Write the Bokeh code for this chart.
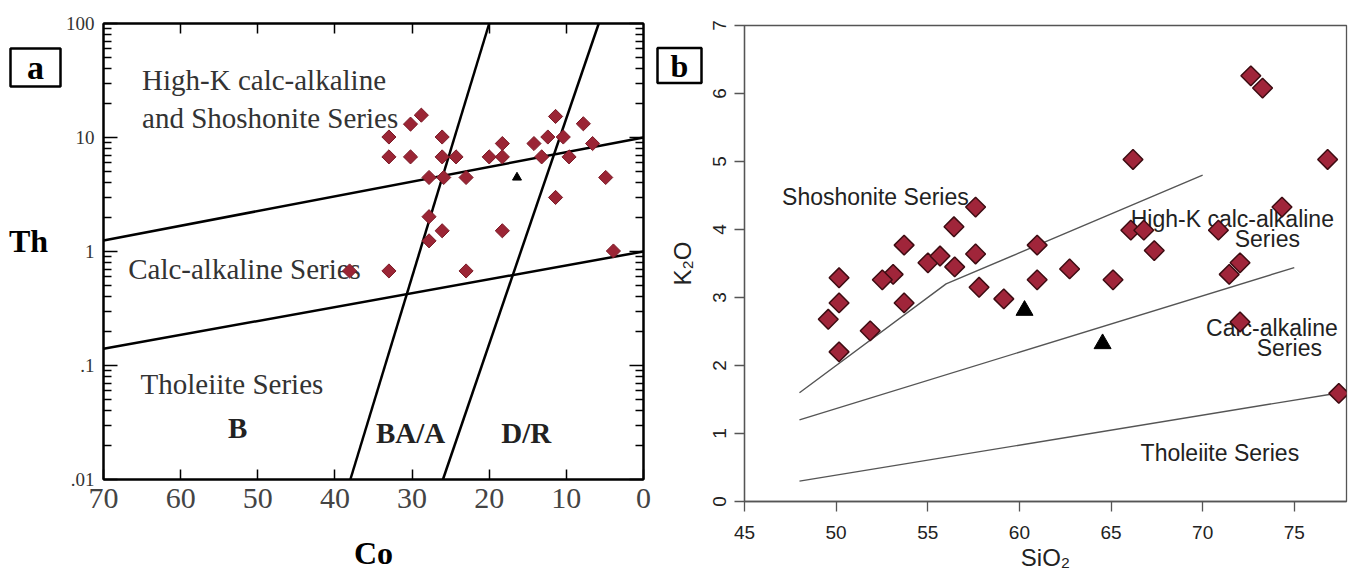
import math
from bokeh.plotting import figure
from bokeh.layouts import row
from bokeh.models import Range1d, FixedTicker, LogAxis, LinearAxis, CustomJSTickFormatter
from bokeh.core.properties import value
from bokeh.embed import file_html
from bokeh.resources import INLINE

SERIF = "Liberation Serif"
SANS = "Liberation Sans"
H = 573

# ---------------- Panel (a): Th vs Co ----------------
co_samples = [28.8, 30.2, 33.0, 26.1, 33.0, 30.2, 26.1, 24.3, 27.8, 25.9, 23.0,
              27.8, 26.1, 27.8, 18.3, 20.0, 18.3, 14.2, 13.2, 12.4, 11.4, 10.4,
              9.65, 7.8, 6.6, 4.9, 11.4, 18.3, 3.9, 33.0, 23.0, 38.1]
th_samples = [15.7, 13.1, 10.1, 10.1, 6.76, 6.76, 6.76, 6.76, 4.46, 4.46, 4.46,
              2.02, 1.52, 1.24, 8.85, 6.76, 6.76, 8.85, 6.76, 10.1, 15.3, 10.1,
              6.76, 13.2, 8.85, 4.46, 2.98, 1.52, 1.01, 0.675, 0.675, 0.675]
co_ref = [16.4]
th_ref = [4.46]

hkca_co = [70, 0]
hkca_th = [1.25, 10.0]
cath_co = [70, 0]
cath_th = [0.14, 1.0]
bba_co = [38, 20]
bba_th = [0.01, 100]
badr_co = [26, 5.8]
badr_th = [0.01, 100]

a_series_text = ["High-K calc-alkaline", "and Shoshonite Series", "Calc-alkaline Series", "Tholeiite Series"]
a_series_co = [65.0, 65.0, 66.8, 65.2]
a_series_th = [31.9, 14.8, 0.697, 0.0689]
a_rock_text = ["B", "BA/A", "D/R"]
a_rock_co = [52.6, 30.2, 15.2]
a_rock_th = [0.0285, 0.0255, 0.0257]

co_ticks = [70, 60, 50, 40, 30, 20, 10, 0]
co_top_ticks = [60, 50, 40, 30, 20, 10]
th_ticks = [0.01, 0.1, 1, 10, 100]
th_tick_labels = [".01", ".1", "1", "10", "100"]
th_minor = [k * 10.0 ** e for e in range(-2, 2) for k in range(2, 10)]

# ---------------- Panel (b): K2O vs SiO2 ----------------
sio2_samples = [72.63, 73.27, 66.2, 76.82, 74.33, 57.61, 56.43, 53.71, 60.97, 66.08,
                66.79, 70.86, 67.36, 57.61, 55.01, 55.67, 56.47, 62.74, 53.11, 52.52,
                50.16, 60.97, 65.11, 72.04, 71.45, 57.8, 59.15, 50.16, 53.71, 49.57,
                51.86, 50.16, 72.04, 77.43]
k2o_samples = [6.26, 6.08, 5.03, 5.03, 4.33, 4.33, 4.04, 3.77, 3.77, 3.99,
               3.99, 3.99, 3.69, 3.64, 3.51, 3.61, 3.45, 3.42, 3.34, 3.26,
               3.29, 3.26, 3.26, 3.51, 3.34, 3.15, 2.98, 2.92, 2.92, 2.68,
               2.51, 2.20, 2.64, 1.59]
sio2_ref = [60.28, 64.54]
k2o_ref = [2.81, 2.32]

sho_si = [48, 56, 70]
sho_k = [1.6, 3.2, 4.8]
hk_si = [48, 75]
hk_k = [1.2, 3.44]
ca_si = [48, 77.5]
ca_k = [0.3, 1.6]

b_text = ["High-K calc-alkaline", "Series", "Calc-alkaline", "Series", "Tholeiite Series"]
b_text_si = [71.62, 73.53, 73.78, 74.73, 70.94]
b_text_k = [4.16, 3.86, 2.55, 2.26, 0.71]
b_sho_text = ["Shoshonite Series"]
b_sho_si = [47.05]
b_sho_k = [4.48]

sio2_ticks = [45, 50, 55, 60, 65, 70, 75]
k2o_ticks = [0, 1, 2, 3, 4, 5, 6, 7]

# ---------------- margin strips (panel tags and side titles) ----------------
strip_a_w = 62
tag_a_x, tag_a_y, tag_a_w, tag_a_h = [35], [67], [50], [38]
th_title_x, th_title_y = [28], [240]
strip_m_w = 48
tag_b_x, tag_b_y, tag_b_w, tag_b_h = [24], [65], [44], [35]
k2o_title_x, k2o_title_y = [27], [263]


def strip(width):
    s = figure(width=width, height=H, x_range=Range1d(0, width), y_range=Range1d(H, 0),
               output_backend="svg", toolbar_location=None, min_border=0,
               x_axis_location=None, y_axis_location=None,
               background_fill_color="white", border_fill_color="white")
    s.frame_align = False
    s.outline_line_color = None
    s.grid.visible = False
    return s


sa = strip(strip_a_w)
sa.rect(x=tag_a_x, y=tag_a_y, width=tag_a_w, height=tag_a_h, fill_color="white",
        line_color="black", line_width=2.5)
sa.text(x=tag_a_x, y=tag_a_y, text=["a"], text_font=value(SERIF), text_font_style="bold",
        text_font_size="34px", text_color="black", text_align="center", text_baseline="middle")
sa.text(x=th_title_x, y=th_title_y, text=["Th"], text_font=value(SERIF), text_font_style="bold",
        text_font_size="32px", text_color="black", text_align="center", text_baseline="middle")

# ======================= Figure A =======================
pa = figure(width=593, height=H, x_range=Range1d(70, 0), y_range=Range1d(0.01, 100),
            y_axis_type="log", output_backend="svg", toolbar_location=None,
            min_border_left=39, min_border_right=12, min_border_top=23, min_border_bottom=93,
            background_fill_color="white", border_fill_color="white")
pa.frame_align = False
pa.xgrid.visible = False
pa.ygrid.visible = False
pa.outline_line_color = "black"
pa.outline_line_width = 2

ya = pa.yaxis[0]
ya.ticker = FixedTicker(ticks=th_ticks, minor_ticks=th_minor)
ya.major_label_overrides = dict(zip(th_ticks, th_tick_labels))
ya.major_tick_in = 14
ya.major_tick_out = 0
ya.minor_tick_in = 8
ya.minor_tick_out = 0
ya.axis_line_color = "black"
ya.axis_line_width = 2
ya.major_tick_line_width = 1.5
ya.minor_tick_line_width = 1.5
ya.major_label_text_font = SERIF
ya.major_label_text_font_size = "19px"
ya.major_label_text_color = "#333333"
ya.major_label_standoff = 9

xa = pa.xaxis[0]
xa.ticker = FixedTicker(ticks=co_ticks, minor_ticks=[])
xa.major_label_overrides = {0: "0"}
xa.major_tick_in = 10
xa.major_tick_out = 0
xa.minor_tick_in = 0
xa.minor_tick_out = 0
xa.axis_line_color = "black"
xa.axis_line_width = 2
xa.major_tick_line_width = 1.5
xa.major_label_text_font = SERIF
xa.major_label_text_font_size = "30px"
xa.major_label_text_color = "#444444"
xa.major_label_standoff = 9
xa.axis_label = "Co"
xa.axis_label_text_font = SERIF
xa.axis_label_text_font_style = "bold"
xa.axis_label_text_font_size = "32px"
xa.axis_label_text_color = "black"
xa.axis_label_standoff = 24

top_axis = LinearAxis(ticker=FixedTicker(ticks=co_top_ticks, minor_ticks=[]),
                      formatter=CustomJSTickFormatter(code="return ''"),
                      major_tick_in=10, major_tick_out=0, minor_tick_in=0, minor_tick_out=0,
                      axis_line_color="black", axis_line_width=2, major_tick_line_width=1.5,
                      major_label_standoff=0)
pa.add_layout(top_axis, "above")

right_axis = LogAxis(ticker=FixedTicker(ticks=th_ticks, minor_ticks=th_minor),
                     formatter=CustomJSTickFormatter(code="return ''"),
                     major_tick_in=14, major_tick_out=0, minor_tick_in=8, minor_tick_out=0,
                     axis_line_color="black", axis_line_width=2,
                     major_tick_line_width=1.5, minor_tick_line_width=1.5,
                     major_label_standoff=0)
pa.add_layout(right_axis, "right")

pa.text(x=a_series_co, y=a_series_th, text=a_series_text, text_font=value(SERIF),
        text_font_size="29px", text_color="#333333", text_align="left", text_baseline="middle")
pa.text(x=a_rock_co, y=a_rock_th, text=a_rock_text, text_font=value(SERIF),
        text_font_size="29px", text_font_style="bold", text_color="#222222",
        text_align="center", text_baseline="middle")

for xs, ys in [(hkca_co, hkca_th), (cath_co, cath_th), (bba_co, bba_th), (badr_co, badr_th)]:
    pa.line(xs, ys, line_color="black", line_width=2.5)

pa.scatter(co_samples, th_samples, marker="square", angle=math.pi / 4, size=10,
           fill_color="#9B2535", line_color="#7a1a26", line_width=1)
pa.scatter(co_ref, th_ref, marker="triangle", size=9, fill_color="black", line_color="black")

# ---------------- middle strip ----------------
sm = strip(strip_m_w)
sm.rect(x=tag_b_x, y=tag_b_y, width=tag_b_w, height=tag_b_h, fill_color="white",
        line_color="black", line_width=2.5)
sm.text(x=tag_b_x, y=tag_b_y, text=["b"], text_font=value(SERIF), text_font_style="bold",
        text_font_size="32px", text_color="black", text_align="center", text_baseline="middle")
sm.text(x=k2o_title_x, y=k2o_title_y, text=["K\u2082O"], angle=math.pi / 2, text_font=value(SANS),
        text_font_size="24px", text_color="#222222", text_align="center", text_baseline="middle")

# ======================= Figure B =======================
pb = figure(width=645, height=H, x_range=Range1d(45, 77.85), y_range=Range1d(0, 7),
            output_backend="svg", toolbar_location=None,
            min_border_left=41, min_border_right=2, min_border_top=25, min_border_bottom=71,
            background_fill_color="white", border_fill_color="white")
pb.frame_align = False
pb.xgrid.visible = False
pb.ygrid.visible = False
pb.outline_line_color = "#555555"
pb.outline_line_width = 1.3

for ax, ticks, s1 in [(pb.xaxis[0], sio2_ticks, 14), (pb.yaxis[0], k2o_ticks, 9)]:
    ax.ticker = FixedTicker(ticks=ticks, minor_ticks=[])
    ax.major_tick_out = 10
    ax.major_tick_in = 0
    ax.minor_tick_in = 0
    ax.minor_tick_out = 0
    ax.axis_line_color = "#555555"
    ax.axis_line_width = 1.3
    ax.major_tick_line_color = "#555555"
    ax.major_tick_line_width = 1.3
    ax.major_label_text_font = SANS
    ax.major_label_text_font_size = "19px"
    ax.major_label_text_color = "#222222"
    ax.major_label_standoff = s1
pb.yaxis[0].major_label_orientation = "vertical"
xb = pb.xaxis[0]
xb.axis_label = "SiO\u2082"
xb.axis_label_text_font = SANS
xb.axis_label_text_font_style = "normal"
xb.axis_label_text_font_size = "24px"
xb.axis_label_text_color = "#222222"
xb.axis_label_standoff = 2

for xs, ys in [(sho_si, sho_k), (hk_si, hk_k), (ca_si, ca_k)]:
    pb.line(xs, ys, line_color="#555555", line_width=1.4)

pb.text(x=b_sho_si, y=b_sho_k, text=b_sho_text, text_font=value(SANS), text_font_size="23px",
        text_color="#222222", text_align="left", text_baseline="middle")
pb.text(x=b_text_si, y=b_text_k, text=b_text, text_font=value(SANS), text_font_size="23px",
        text_color="#222222", text_align="center", text_baseline="middle")

pb.scatter(sio2_samples, k2o_samples, marker="square", angle=math.pi / 4, size=14,
           fill_color="#A0253A", line_color="#3d0c12", line_width=1.5)
pb.scatter(sio2_ref, k2o_ref, marker="triangle", size=17, fill_color="black", line_color="black")

layout = row(sa, pa, sm, pb)
open("out.html", "w").write(file_html(layout, INLINE, title="Th-Co and K2O-SiO2 diagrams"))
